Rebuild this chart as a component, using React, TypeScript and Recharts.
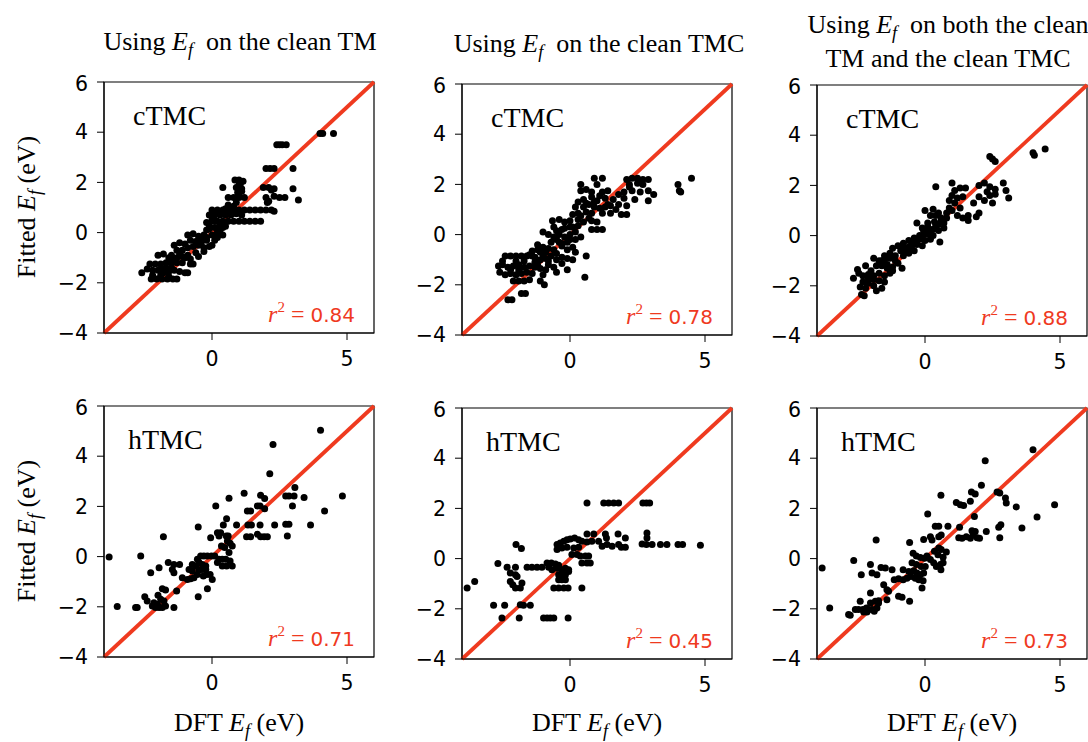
import { ScatterChart, Scatter, XAxis, YAxis, ReferenceLine, ReferenceArea } from "recharts";

type Pt = [number, number];

const xTicks = [0, 5];
const yTicks = [-4, -2, 0, 2, 4, 6];
const axisDomain: [number, number] = [-4, 6];

// cTMC, fit uses E_f on the clean TM
const cTmcCleanTm: Pt[] = [
  [4.0, 3.95], [4.1, 3.95], [4.5, 3.95],
  [2.4, 3.5], [2.5, 3.5], [2.6, 3.5], [2.75, 3.5],
  [2.0, 2.55], [2.15, 2.55], [2.3, 2.55], [3.0, 2.55],
  [0.85, 2.1], [1.0, 2.1], [1.15, 2.05], [1.05, 1.95],
  [0.4, 1.8], [0.9, 1.8], [1.1, 1.75], [1.9, 1.8], [2.1, 1.8], [2.3, 1.75], [3.0, 1.75], [2.2, 1.7],
  [1.0, 1.9], [1.1, 1.65], [1.0, 1.55], [0.95, 1.6],
  [0.6, 1.4], [0.8, 1.4], [1.0, 1.4], [1.2, 1.4], [2.0, 1.4], [2.3, 1.45], [2.5, 1.4], [2.7, 1.4], [3.2, 1.3], [2.1, 1.25], [2.05, 1.2],
  [0.9, 1.2], [0.6, 1.1], [0.8, 1.05], [0.5, 0.95],
  [0.0, 0.9], [0.2, 0.9], [0.4, 0.9], [0.6, 0.9], [0.8, 0.9], [1.0, 0.9], [1.2, 0.9], [1.4, 0.9], [1.6, 0.9], [1.8, 0.9], [2.0, 0.9], [2.2, 0.9], [2.3, 0.85],
  [-0.1, 0.7], [0.1, 0.7], [0.3, 0.7], [0.5, 0.7], [0.7, 0.7], [0.9, 0.75], [1.1, 0.7],
  [0.2, 0.45], [0.4, 0.45], [0.6, 0.45], [0.8, 0.45], [1.0, 0.45], [1.2, 0.45], [1.4, 0.45], [1.6, 0.45], [1.8, 0.45],
  [-0.1, 0.3], [0.1, 0.2], [0.2, 0.0], [0.3, 0.1], [0.0, -0.1], [-0.2, -0.2], [0.1, -0.3], [0.4, 0.2], [0.4, -0.1], [0.5, 0.25], [-0.2, 0.4], [0.0, 0.5], [-0.1, 0.15],
  [0.3, 0.3], [0.1, 0.45], [-0.2, 0.1],
  [-1.4, -0.5], [-1.2, -0.4], [-1.0, -0.45], [-0.8, -0.3], [-0.6, -0.35], [-0.4, -0.25], [-0.2, -0.3],
  [-1.3, -0.7], [-1.1, -0.7], [-0.9, -0.6], [-0.7, -0.55], [-0.5, -0.5], [-0.3, -0.6], [-0.1, -0.55],
  [-1.5, -0.9], [-1.2, -0.85], [-0.9, -0.9], [-0.6, -0.8], [-0.3, -0.75], [0.0, -0.5], [-0.4, -0.45], [-0.5, -0.95],
  [-0.9, -0.1], [-0.7, -0.05], [-0.5, -0.15], [-0.3, -0.1], [0.2, -0.2],
  [-2.0, -0.9], [-1.8, -0.85], [-1.6, -1.0], [-1.3, -1.0], [-1.0, -1.0], [-0.8, -1.05], [-1.1, -0.95], [-1.4, -1.05],
  [-2.3, -1.25], [-2.1, -1.25], [-1.9, -1.25], [-1.7, -1.2], [-1.5, -1.2], [-1.3, -1.2], [-1.1, -1.2], [-0.8, -1.25], [-0.7, -1.25],
  [-1.9, -1.45], [-1.7, -1.4], [-1.5, -1.4], [-2.4, -1.45],
  [-2.2, -1.5], [-2.0, -1.5], [-1.8, -1.6], [-1.6, -1.55], [-1.4, -1.5], [-1.2, -1.55], [-1.0, -1.6], [-0.9, -1.6], [-2.6, -1.6],
  [-2.25, -1.85], [-2.05, -1.85], [-1.85, -1.85], [-1.65, -1.85], [-1.45, -1.85], [-1.3, -1.85],
  [-2.2, -1.7], [-1.9, -1.7], [-1.6, -1.75],
];

// cTMC, fit uses E_f on the clean TMC
const cTmcCleanTmc: Pt[] = [
  [4.5, 2.25], [4.0, 2.0], [4.05, 1.75], [4.1, 1.7],
  [0.9, 2.25], [1.2, 2.25], [2.1, 2.2], [2.3, 2.25], [2.5, 2.25], [2.7, 2.2], [2.9, 2.2],
  [0.4, 2.0], [1.0, 2.0], [2.2, 2.0], [2.5, 2.05], [2.7, 2.0], [2.2, 1.9], [1.8, 1.6],
  [0.4, 1.75], [0.6, 1.8], [0.8, 1.7], [1.2, 1.7], [1.4, 1.75], [2.0, 1.7], [2.3, 1.75], [2.6, 1.7], [2.9, 1.75], [3.1, 1.6],
  [0.5, 1.4], [0.8, 1.5], [1.0, 1.35], [1.3, 1.45], [1.6, 1.4], [2.0, 1.45], [2.4, 1.4], [2.9, 1.35], [1.1, 1.55],
  [0.2, 1.1], [0.5, 1.1], [0.7, 1.2], [0.9, 1.1], [1.1, 1.05], [1.3, 1.1], [1.5, 1.15], [1.8, 1.2], [2.1, 1.15], [0.9, 1.3], [0.6, 1.25], [0.3, 1.3], [1.4, 1.2], [1.7, 1.0],
  [0.1, 0.8], [0.3, 0.85], [0.6, 0.9], [0.8, 0.85], [1.2, 0.85], [1.5, 0.85], [1.9, 0.8], [2.1, 0.8], [0.4, 0.75], [0.7, 0.65],
  [-0.65, 0.55], [-0.4, 0.6], [-0.2, 0.5], [0.0, 0.55], [0.3, 0.6], [0.5, 0.5], [0.8, 0.55], [1.0, 0.5],
  [0.8, 0.2], [1.0, 0.2], [1.2, 0.2], [-0.6, 0.3], [-0.3, 0.2], [0.0, 0.3], [0.3, 0.35], [-0.2, 0.25], [0.1, 0.3], [-0.5, 0.15],
  [-1.0, 0.1], [-0.8, 0.0], [-0.6, -0.1], [-0.4, 0.0], [-0.2, -0.1], [0.0, 0.0], [0.2, 0.1], [0.0, -0.2],
  [-0.7, -0.3], [-0.5, -0.2], [-0.3, -0.35], [-0.1, -0.3], [0.2, -0.2], [0.4, -0.1], [-0.4, -0.3],
  [-1.2, -0.4], [-1.0, -0.5], [-0.8, -0.55], [-0.6, -0.6], [-0.3, -0.45], [-0.1, -0.6], [0.1, -0.5], [-1.4, -0.65], [-1.2, -0.6],
  [-1.1, -0.7], [-0.9, -0.7], [-0.5, -0.75], [0.2, -0.7], [-1.0, -0.8],
  [-1.5, -0.8], [-1.3, -0.9], [-1.1, -1.0], [-0.9, -0.95], [-0.7, -0.85], [-0.5, -1.0], [-0.3, -0.9], [-0.1, -0.95], [0.1, -1.0], [-0.8, -1.05],
  [-1.2, -1.2], [-0.8, -1.2], [-0.6, -1.3], [-0.3, -1.15], [-0.1, -1.4], [0.6, -0.85], [-0.5, -1.5], [-0.9, -1.4], [-1.3, -1.1], [-1.1, -1.35],
  [0.55, -1.7],
  [-2.4, -0.85], [-2.2, -0.85], [-2.0, -0.85], [-1.8, -0.85], [-1.6, -0.85], [-1.4, -0.85],
  [-2.5, -1.05], [-2.0, -1.05], [-1.7, -1.05],
  [-2.65, -1.25], [-2.5, -1.2], [-2.3, -1.3], [-2.1, -1.25], [-1.9, -1.2], [-1.7, -1.3], [-1.5, -1.25], [-1.3, -1.3],
  [-1.9, -1.4], [-2.2, -1.4],
  [-2.4, -1.6], [-2.2, -1.55], [-2.0, -1.6], [-1.8, -1.55], [-1.6, -1.5], [-1.4, -1.55], [-2.6, -1.5], [-1.0, -1.6],
  [-2.1, -1.85], [-1.9, -1.85], [-1.7, -1.85], [-1.5, -1.8], [-1.1, -1.85], [-0.95, -2.0],
  [-1.8, -2.35], [-1.65, -2.35], [-2.3, -2.6], [-2.15, -2.6],
];

// cTMC, fit uses both
const cTmcBoth: Pt[] = [
  [4.0, 3.3], [4.05, 3.2], [4.45, 3.45],
  [2.4, 3.15], [2.5, 3.05], [2.6, 2.95],
  [0.4, 1.95], [1.0, 2.1], [1.1, 1.8], [1.3, 1.9], [2.0, 2.0], [2.2, 2.1], [2.4, 1.95], [2.6, 1.85], [2.9, 2.1], [3.0, 1.8],
  [3.1, 1.5], [1.5, 1.9], [2.3, 1.75], [2.6, 1.65],
  [1.0, 1.6], [1.2, 1.5], [1.4, 1.55], [2.0, 1.55], [2.2, 1.4], [2.4, 1.6], [2.5, 1.3], [1.8, 1.3], [0.9, 1.4], [1.1, 1.3],
  [0.0, 1.0], [0.3, 1.05], [0.5, 0.9], [0.8, 0.9], [1.0, 1.0], [1.3, 1.1], [1.6, 0.8], [1.9, 0.75], [2.0, 0.9], [0.2, 0.8], [0.6, 0.7], [1.4, 0.7], [1.6, 0.6],
  [0.9, 1.1], [1.2, 0.8], [0.4, 0.8], [0.8, 0.7], [0.7, 0.3],
  [-0.3, 0.5], [-0.1, 0.3], [0.1, 0.5], [0.2, 0.2], [0.4, 0.4], [0.0, 0.1], [-0.2, 0.0], [0.3, 0.0], [0.5, 0.2], [0.7, 0.5],
  [0.1, 0.35], [-0.05, 0.15], [0.35, 0.55], [0.3, 0.25], [0.5, 0.45], [0.6, 0.6], [0.1, 0.05], [-0.1, -0.05], [-0.3, -0.2],
  [-1.2, -0.5], [-1.0, -0.4], [-0.8, -0.3], [-0.6, -0.2], [-0.4, -0.1], [-0.2, -0.15], [0.0, -0.2],
  [-0.9, -0.6], [-0.7, -0.5], [-0.5, -0.4], [-0.3, -0.35], [-0.1, -0.4], [-0.9, -0.45], [-0.7, -0.65], [-0.5, -0.55], [-0.6, -0.45], [-0.45, -0.25],
  [-1.1, -0.8], [-0.8, -0.8], [-0.6, -0.7], [-0.4, -0.6], [0.2, -0.15], [0.55, -0.25], [-1.3, -0.7], [-1.5, -0.8],
  [-1.9, -0.9], [-1.7, -1.0], [-1.5, -0.95], [-1.3, -0.9], [-1.1, -1.0], [-1.6, -1.0],
  [-1.8, -1.2], [-1.6, -1.2], [-1.4, -1.15], [-1.2, -1.25], [-1.0, -1.1], [-0.85, -1.3], [-2.0, -1.4], [-2.2, -1.2], [-1.4, -1.3], [-1.2, -1.4],
  [-2.65, -1.7], [-2.45, -1.5], [-2.3, -1.6], [-2.1, -1.55], [-1.9, -1.6], [-1.7, -1.5], [-1.5, -1.6], [-1.3, -1.5], [-2.5, -1.35], [-2.1, -1.7],
  [-2.3, -1.85], [-2.1, -1.9], [-1.9, -2.0], [-1.7, -1.8], [-1.5, -1.85], [-1.9, -1.75],
  [-2.4, -2.05], [-2.2, -2.1], [-1.8, -2.2], [-1.6, -2.1], [-2.35, -2.35], [-2.25, -2.4],
];

// hTMC, fit uses E_f on the clean TM
const hTmcCleanTm: Pt[] = [
  [4.02, 5.03], [2.26, 4.47], [2.14, 3.3], [3.07, 2.75],
  [2.73, 2.41], [2.85, 2.41], [3.04, 2.41], [3.41, 2.35], [4.83, 2.41],
  [1.8, 2.44], [1.95, 2.31], [1.19, 2.52], [0.63, 2.32], [0.14, 2.02], [2.98, 2.02],
  [1.68, 2.02], [1.78, 2.02], [1.31, 1.82], [1.43, 1.82], [1.95, 1.91], [4.17, 1.82],
  [0.54, 1.51], [0.42, 1.26], [0.91, 1.26], [1.33, 1.26], [1.46, 1.26], [1.78, 1.26], [2.32, 1.26],
  [2.73, 1.29], [2.85, 1.29], [3.65, 1.26], [-0.51, 1.18],
  [1.28, 0.79], [1.43, 0.79], [1.68, 0.89], [1.8, 0.79], [1.93, 0.79], [2.05, 0.79], [2.79, 0.82], [-1.8, 0.79],
  [0.2, 0.95], [0.32, 0.95], [-0.05, 0.75], [0.26, 0.82], [0.53, 0.82], [0.6, 0.82],
  [0.57, 0.62], [0.67, 0.53], [0.75, 0.42], [0.35, 0.42], [0.47, 0.36], [0.63, 0.16],
  [-3.81, -0.02], [-2.64, 0.02], [-0.42, 0.02], [-0.3, 0.02], [-0.17, 0.02], [-0.02, 0.02], [0.1, 0.02],
  [0.26, -0.11], [0.38, -0.11], [0.51, -0.11], [0.67, -0.18], [0.75, -0.37],
  [0.2, -0.24], [0.38, -0.37], [0.54, -0.37],
  [-0.54, -0.11], [-0.48, -0.24], [-0.36, -0.31], [-0.23, -0.37], [-0.73, -0.31], [-0.6, -0.37],
  [-1.62, -0.24], [-1.41, -0.31], [-1.2, -0.31], [-1.96, -0.44], [-1.47, -0.51], [-1.41, -0.64],
  [-0.85, -0.51], [-0.73, -0.57], [-0.48, -0.53], [-0.36, -0.51], [-0.23, -0.51],
  [-0.32, -0.77], [-0.2, -0.71], [-0.07, -0.71], [0.01, -0.91],
  [-0.54, -0.71], [-0.67, -0.84], [-0.79, -0.88], [-0.91, -0.91], [-1.1, -0.84],
  [-2.27, -0.64], [-0.17, -1.28], [-1.31, -1.37], [-1.84, -1.28], [-1.72, -1.33], [-0.51, -1.6],
  [-2.49, -1.6], [-2.4, -1.77], [-2.0, -1.54], [-1.9, -1.7], [-1.78, -1.77],
  [-3.51, -1.99], [-2.83, -2.03], [-2.77, -2.03],
  [-2.21, -1.97], [-2.09, -2.03], [-1.96, -2.03], [-1.84, -2.03], [-1.72, -1.97], [-2.15, -1.84], [-2.02, -1.9], [-1.41, -2.03],
];

// hTMC, fit uses E_f on the clean TMC
const hTmcCleanTmc: Pt[] = [
  [0.63, 2.22], [1.25, 2.22], [1.43, 2.22], [1.62, 2.22], [1.8, 2.22], [2.7, 2.22], [2.83, 2.22], [2.95, 2.22],
  [0.63, 0.98], [0.88, 0.98], [1.31, 0.98], [1.35, 0.82], [1.78, 0.98], [2.05, 0.82], [2.85, 1.02], [2.85, 0.82],
  [1.06, 0.69], [1.19, 0.49], [1.37, 0.56], [1.56, 0.49], [1.8, 0.56], [1.9, 0.45], [2.05, 0.45],
  [2.67, 0.58], [2.83, 0.56], [3.04, 0.56], [3.35, 0.56], [3.59, 0.56], [4.0, 0.56], [4.17, 0.56], [4.83, 0.53],
  [-0.48, 0.56], [-0.36, 0.62], [-0.23, 0.69], [-0.11, 0.75], [0.01, 0.78], [0.17, 0.82], [0.32, 0.75], [0.44, 0.69], [0.63, 0.66], [0.81, 0.69],
  [-0.48, 0.36], [-0.3, 0.42], [-0.11, 0.45], [0.14, 0.42], [0.32, 0.45],
  [0.07, 0.16], [0.26, 0.16], [0.38, 0.1], [0.57, 0.1], [0.69, 0.1], [0.44, -0.18], [0.63, -0.18], [0.75, -0.18],
  [-2.0, 0.56], [-1.8, 0.4], [-2.67, -0.2], [-2.33, -0.34], [-2.02, -0.34],
  [-1.59, -0.34], [-1.41, -0.34], [-1.22, -0.34], [-1.04, -0.34],
  [-0.85, -0.18], [-0.69, -0.18], [-0.54, -0.22], [-0.42, -0.26],
  [-0.79, -0.34], [-0.67, -0.44], [-0.48, -0.38], [-0.3, -0.44], [-0.17, -0.38], [-0.05, -0.44],
  [-0.42, -0.64], [-0.3, -0.64], [-0.17, -0.64], [-0.05, -0.51],
  [-0.42, -0.84], [-0.3, -0.84], [-0.17, -0.84],
  [-2.21, -0.57], [-2.02, -0.64], [-1.96, -0.71],
  [-2.21, -0.91], [-2.12, -1.04], [-2.02, -1.17], [-1.84, -1.17], [-1.78, -0.97],
  [-3.81, -1.17], [-3.53, -0.91],
  [-0.6, -1.17], [-0.42, -1.17], [-0.23, -1.17], [-0.07, -1.17], [0.44, -1.17],
  [-2.83, -1.86], [-2.42, -1.86], [-1.84, -1.84], [-1.72, -1.86], [-1.47, -1.86],
  [-2.52, -2.37], [-1.88, -2.37], [-0.98, -2.37], [-0.85, -2.37], [-0.73, -2.37], [-0.6, -2.37], [-0.07, -2.37],
];

// hTMC, fit uses both
const hTmcBoth: Pt[] = [
  [4.0, 4.34], [2.23, 3.9], [2.09, 2.92], [1.72, 2.65], [1.86, 2.57],
  [2.67, 2.65], [2.77, 2.61], [2.98, 2.41], [3.01, 2.22], [3.38, 2.06], [4.8, 2.15], [4.15, 1.66],
  [0.59, 2.52], [1.16, 2.24], [1.31, 2.15], [1.43, 2.12], [1.68, 2.28], [0.1, 1.78], [1.83, 1.68],
  [0.38, 1.29], [0.51, 1.29], [0.85, 1.29], [1.28, 1.25], [2.73, 1.25], [2.81, 1.35], [3.59, 1.22],
  [1.74, 1.11], [2.27, 1.08], [1.86, 1.08],
  [1.25, 0.83], [1.37, 0.81], [1.53, 0.87], [1.68, 0.81], [1.78, 0.94], [1.93, 0.83], [2.02, 0.81], [2.77, 0.83],
  [0.2, 0.87], [0.51, 0.87], [0.6, 0.94], [-0.05, 0.76], [0.26, 0.74], [-1.81, 0.74], [-0.57, 0.64],
  [0.51, 0.42], [0.6, 0.36], [0.79, 0.26], [0.35, 0.29], [0.48, 0.15], [0.67, 0.05],
  [-2.64, -0.08], [-3.81, -0.37],
  [-0.44, 0.21], [-0.32, 0.1], [-0.17, 0.04], [-0.02, 0.01], [0.07, 0.1], [0.2, -0.04],
  [-0.48, -0.17], [-0.32, -0.24], [-0.14, -0.31], [0.01, -0.31],
  [0.32, -0.17], [0.42, -0.31], [0.57, -0.24], [0.67, -0.17], [0.59, -0.44],
  [-2.02, -0.24], [-1.63, -0.35], [-1.47, -0.37], [-1.22, -0.44], [-2.36, -0.64], [-1.96, -0.57], [-1.78, -0.64],
  [-0.81, -0.44], [-0.6, -0.51], [-0.42, -0.48], [-0.3, -0.57], [-0.17, -0.64], [-0.05, -0.57],
  [-1.14, -0.84], [-0.98, -0.8], [-0.81, -0.84], [-0.67, -0.78], [-0.52, -0.71], [-0.36, -0.78], [-0.23, -0.84], [-0.07, -0.88],
  [-1.53, -1.04], [-1.41, -1.24], [-1.35, -1.3], [-0.11, -1.17], [-2.02, -1.37],
  [-0.98, -1.5], [-0.85, -1.54], [-1.41, -1.64], [-1.72, -1.68], [-0.57, -1.7],
  [-2.4, -1.7], [-2.02, -1.77], [-1.84, -1.7], [-1.72, -1.77], [-3.53, -1.97],
  [-2.58, -2.03], [-2.46, -2.03], [-2.3, -2.03], [-2.17, -1.97], [-2.09, -2.03], [-1.96, -2.03], [-1.88, -2.1], [-1.78, -1.97], [-2.27, -2.13], [-2.15, -2.13],
  [-2.83, -2.23], [-2.77, -2.26],
];

const RED = "#ef3a1f";
const SERIF = '"Liberation Serif", "Times New Roman", serif';
const SANS = '"DejaVu Sans", sans-serif';
const PLOT_W = 270;
const PLOT_H = 251;
const Y_AXIS_W = 60;
const NB = "\u00a0";

const panels = [
  { data: cTmcCleanTm, left: 104, top: 82, tag: "cTMC", r2: "0.84" },
  { data: cTmcCleanTmc, left: 462, top: 84, tag: "cTMC", r2: "0.78" },
  { data: cTmcBoth, left: 817, top: 85, tag: "cTMC", r2: "0.88" },
  { data: hTmcCleanTm, left: 104, top: 406, tag: "hTMC", r2: "0.71" },
  { data: hTmcCleanTmc, left: 462, top: 408, tag: "hTMC", r2: "0.45" },
  { data: hTmcBoth, left: 817, top: 408, tag: "hTMC", r2: "0.73" },
];

const fmt = (v: number) => String(v).replace("-", "\u2212");
const tickStyle = { fill: "#000", fontSize: 20.5, fontFamily: SANS };

const Dot = (p: any) => <circle cx={p.cx} cy={p.cy} r={3.5} fill="#000" />;

function Panel({ data, left, top }: { data: Pt[]; left: number; top: number }) {
  const pts = data.map(([x, y]) => ({ x, y }));
  return (
    <div style={{ position: "absolute", left: left - Y_AXIS_W, top: top - 10 }}>
      <ScatterChart width={Y_AXIS_W + PLOT_W + 4} height={PLOT_H + 10 + 40} margin={{ top: 10, right: 4, bottom: 0, left: 0 }}>
        <XAxis
          type="number" dataKey="x" domain={axisDomain} ticks={xTicks} allowDataOverflow
          height={40} tickSize={7} tickMargin={11} stroke="#000" tick={tickStyle} tickFormatter={fmt}
        />
        <YAxis
          type="number" dataKey="y" domain={axisDomain} ticks={yTicks} allowDataOverflow
          width={Y_AXIS_W} tickSize={7} tickMargin={9} stroke="#000" tick={tickStyle} tickFormatter={fmt}
        />
        <Scatter data={pts} isAnimationActive={false} shape={Dot} />
        <ReferenceLine segment={[{ x: -4, y: -4 }, { x: 6, y: 6 }]} stroke={RED} strokeWidth={3.8} />
        <ReferenceArea x1={-4} x2={6} y1={-4} y2={6} fill="none" stroke="#000" strokeWidth={1.2} fillOpacity={0} />
      </ScatterChart>
    </div>
  );
}

function Ef({ size }: { size: number }) {
  return (
    <>
      <tspan fontStyle="italic">E</tspan>
      <tspan fontStyle="italic" fontSize={size * 0.7} dy={size * 0.22}>f</tspan>
    </>
  );
}

const FS = 26;

export default function App() {
  return (
    <div style={{ position: "absolute", left: 0, top: 0, width: 1088, height: 742, overflow: "hidden", background: "#fff" }}>
      {panels.map((p, i) => (
        <Panel key={i} data={p.data} left={p.left} top={p.top} />
      ))}
      <svg width={1088} height={742} style={{ position: "absolute", left: 0, top: 0, pointerEvents: "none" }}>
        <g fontFamily={SERIF} fontSize={FS} fill="#000">
          <text x={240} y={50} textAnchor="middle">
            Using <Ef size={FS} /><tspan dy={-FS * 0.22}>{`${NB}${NB}on the clean TM`}</tspan>
          </text>
          <text x={599} y={52} textAnchor="middle">
            Using <Ef size={FS} /><tspan dy={-FS * 0.22}>{`${NB}${NB}on the clean TMC`}</tspan>
          </text>
          <text x={948} y={33} textAnchor="middle">
            Using <Ef size={FS} /><tspan dy={-FS * 0.22}>{`${NB}${NB}on both the clean`}</tspan>
          </text>
          <text x={948} y={67} textAnchor="middle">TM and the clean TMC</text>

          {[207, 531].map((cy) => (
            <text key={cy} x={35} y={cy} textAnchor="middle" transform={`rotate(-90 35 ${cy})`}>
              Fitted <Ef size={FS} /><tspan dy={-FS * 0.22}>{`${NB}(eV)`}</tspan>
            </text>
          ))}
          {[239, 597, 952].map((cx) => (
            <text key={cx} x={cx} y={731} textAnchor="middle">
              DFT <Ef size={FS} /><tspan dy={-FS * 0.22}>{`${NB}(eV)`}</tspan>
            </text>
          ))}
        </g>
        {panels.map((p, i) => (
          <g key={i}>
            <text x={p.left + (p.tag === "cTMC" ? 29 : 24)} y={p.top + 43} fontFamily={SERIF} fontSize={28} fill="#000">
              {p.tag}
            </text>
            <text x={p.left + PLOT_W - 19} y={p.top + PLOT_H - 11} textAnchor="end" fill={RED}>
              <tspan fontFamily={SERIF} fontStyle="italic" fontSize={24}>r</tspan>
              <tspan fontFamily={SERIF} fontSize={15} dy={-10}>2</tspan>
              <tspan fontFamily={SERIF} fontSize={24} dy={10}>{`${NB}=${NB}`}</tspan>
              <tspan fontFamily={SANS} fontSize={20}>{p.r2}</tspan>
            </text>
          </g>
        ))}
      </svg>
    </div>
  );
}
